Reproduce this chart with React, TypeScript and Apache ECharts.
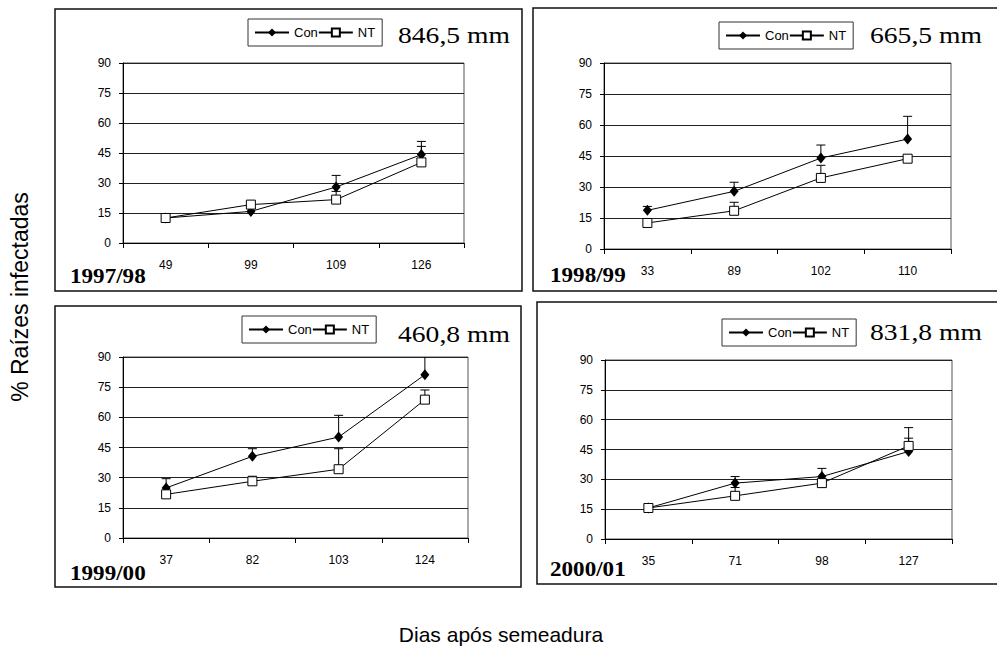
import React, { useEffect, useRef } from "react";
import * as echarts from "echarts";

// ---- data ----
const cats1 = ["49", "99", "109", "126"];
const con1 = [12.5, 15.8, 28, 44.2];
const conErr1 = [0, 0, 5.8, 6.6];
const nt1 = [12.5, 19.2, 21.7, 40.3];
const ntErr1 = [0, 0, 4.1, 8.0];

const cats2 = ["33", "89", "102", "110"];
const con2 = [18.7, 27.9, 44, 53.2];
const conErr2 = [1.9, 4.4, 6.3, 11];
const nt2 = [12.6, 18.5, 34.4, 43.7];
const ntErr2 = [2.1, 4.1, 6.1, 0];

const cats3 = ["37", "82", "103", "124"];
const con3 = [24.9, 40.6, 50.2, 81.2];
const conErr3 = [4.6, 3.8, 10.8, 12];
const nt3 = [21.7, 28.2, 34.2, 68.8];
const ntErr3 = [0, 2.5, 10.2, 4.8];

const cats4 = ["35", "71", "98", "127"];
const con4 = [15.6, 28.1, 31.4, 44];
const conErr4 = [1.6, 3.3, 4.1, 6.7];
const nt4 = [15.6, 21.7, 28.1, 46.8];
const ntErr4 = [0, 4.2, 0, 9.2];

const rainLabels = ["846,5 mm", "665,5 mm", "460,8 mm", "831,8 mm"];
const yearLabels = ["1997/98", "1998/99", "1999/00", "2000/01"];
const yTicks = { min: 0, max: 90, interval: 15 };
const yTitle = "% Raízes infectadas";
const xTitle = "Dias após semeadura";

const panels = [
  { cats: cats1, con: con1, conErr: conErr1, nt: nt1, ntErr: ntErr1 },
  { cats: cats2, con: con2, conErr: conErr2, nt: nt2, ntErr: ntErr2 },
  { cats: cats3, con: con3, conErr: conErr3, nt: nt3, ntErr: ntErr3 },
  { cats: cats4, con: con4, conErr: conErr4, nt: nt4, ntErr: ntErr4 },
];

// ---- layout ----
const grids = [
  { left: 123, top: 63, width: 341, height: 180 },
  { left: 604, top: 63, width: 347, height: 186 },
  { left: 123, top: 357, width: 345, height: 181 },
  { left: 605, top: 360, width: 347, height: 179 },
];
const boxes = [
  { x: 55, y: 9, w: 467, h: 282 },
  { x: 533, y: 8, w: 470, h: 283 },
  { x: 55, y: 306, w: 466, h: 281 },
  { x: 537, y: 302, w: 470, h: 282 },
];
const legendPos = [
  { left: 248, top: 19 },
  { left: 719, top: 22 },
  { left: 242, top: 316 },
  { left: 722, top: 319 },
];
const rainPos = [
  { x: 398, y: 35 },
  { x: 870, y: 35 },
  { x: 398, y: 334 },
  { x: 870, y: 332 },
];
const yearPos = [
  { x: 70, y: 276 },
  { x: 550, y: 275 },
  { x: 70, y: 573 },
  { x: 550, y: 569 },
];

const SANS = '"Liberation Sans", Arial, sans-serif';
const SERIF = '"Liberation Serif", "Times New Roman", serif';

function errRender(params: any, api: any) {
  const v = api.value(1);
  const t = api.value(2);
  if (!(t > v)) return null;
  const p0 = api.coord([api.value(0), v]);
  const p1 = api.coord([api.value(0), t]);
  const st = { stroke: "#000", lineWidth: 1 };
  return {
    type: "group",
    children: [
      { type: "line", shape: { x1: p0[0], y1: p0[1], x2: p0[0], y2: p1[1] }, style: st },
      { type: "line", shape: { x1: p0[0] - 4.5, y1: p1[1], x2: p0[0] + 4.5, y2: p1[1] }, style: st },
    ],
  };
}

export default function App() {
  const ref = useRef<HTMLDivElement>(null);
  useEffect(() => {
    if (!ref.current) return;
    const chart = echarts.init(ref.current, null, { renderer: "svg" });
    const series: any[] = [];
    panels.forEach((p, i) => {
      series.push({
        name: "errCon" + i,
        type: "custom",
        xAxisIndex: i,
        yAxisIndex: i,
        clip: true,
        z: 2,
        renderItem: errRender,
        encode: { x: 0, y: 1 },
        data: p.con.map((v, j) => [j, v, v + p.conErr[j]]),
      });
      series.push({
        name: "errNT" + i,
        type: "custom",
        xAxisIndex: i,
        yAxisIndex: i,
        clip: true,
        z: 2,
        renderItem: errRender,
        encode: { x: 0, y: 1 },
        data: p.nt.map((v, j) => [j, v, v + p.ntErr[j]]),
      });
      series.push({
        name: "Con",
        type: "line",
        xAxisIndex: i,
        yAxisIndex: i,
        data: p.con,
        symbol: "diamond",
        symbolSize: [9, 11],
        lineStyle: { color: "#000", width: 1 },
        itemStyle: { color: "#000" },
        z: 3,
      });
      series.push({
        name: "NT",
        type: "line",
        xAxisIndex: i,
        yAxisIndex: i,
        data: p.nt,
        symbol: "rect",
        symbolSize: 9,
        lineStyle: { color: "#000", width: 1 },
        itemStyle: { color: "#fff", borderColor: "#000", borderWidth: 1 },
        z: 4,
      });
    });

    const graphic: any[] = [];
    boxes.forEach((b) => {
      graphic.push({
        type: "rect",
        shape: { x: b.x, y: b.y, width: b.w, height: b.h },
        style: { fill: "none", stroke: "#111", lineWidth: 1.5 },
        z: 0,
      });
    });
    rainLabels.forEach((t, i) => {
      graphic.push({
        type: "text",
        x: rainPos[i].x,
        y: rainPos[i].y,
        scaleX: 1.15,
        style: { text: t, fontSize: 24, fontFamily: SERIF, fill: "#000", align: "left", verticalAlign: "middle" },
      });
    });
    yearLabels.forEach((t, i) => {
      graphic.push({
        type: "text",
        x: yearPos[i].x,
        y: yearPos[i].y,
        scaleX: 1.1,
        style: { text: t, fontSize: 21, fontWeight: "bold", fontFamily: SERIF, fill: "#000", align: "left", verticalAlign: "middle" },
      });
    });
    graphic.push({
      type: "text",
      x: 20,
      y: 297,
      rotation: Math.PI / 2,
      style: { text: yTitle, fontSize: 23, fontFamily: SANS, fill: "#000", align: "center", verticalAlign: "middle" },
    });
    graphic.push({
      type: "text",
      x: 501,
      y: 634,
      style: { text: xTitle, fontSize: 21, fontFamily: SANS, fill: "#000", align: "center", verticalAlign: "middle" },
    });

    chart.setOption({
      animation: false,
      backgroundColor: "#fff",
      grid: grids.map((g) => ({ ...g, show: true, borderColor: "#555", borderWidth: 1, backgroundColor: "transparent", containLabel: false })),
      xAxis: panels.map((p, i) => ({
        type: "category",
        gridIndex: i,
        data: p.cats,
        boundaryGap: true,
        axisLine: { show: true, lineStyle: { color: "#000", width: 1 } },
        axisTick: { show: true, length: 5, lineStyle: { color: "#000" } },
        axisLabel: { margin: 16, fontSize: 12, fontFamily: SANS, color: "#000" },
        splitLine: { show: false },
      })),
      yAxis: panels.map((p, i) => ({
        type: "value",
        gridIndex: i,
        min: yTicks.min,
        max: yTicks.max,
        interval: yTicks.interval,
        axisLine: { show: true, lineStyle: { color: "#000", width: 1 } },
        axisTick: { show: true, length: 4, lineStyle: { color: "#000" } },
        axisLabel: { margin: 12, fontSize: 12, fontFamily: SANS, color: "#000" },
        splitLine: { show: true, lineStyle: { color: "#222", width: 1 } },
      })),
      legend: legendPos.map((l) => ({
        left: l.left,
        top: l.top,
        data: ["Con", "NT"],
        orient: "horizontal",
        itemWidth: 34,
        itemHeight: 10,
        itemGap: 0,
        padding: [7, 7, 7, 6],
        borderColor: "#333",
        borderWidth: 1,
        selectedMode: false,
        textStyle: { fontSize: 13, fontFamily: SANS, color: "#000" },
      })),
      series,
      graphic,
    });
    return () => chart.dispose();
  }, []);
  return (
    <div
      ref={ref}
      style={{ position: "fixed", left: 0, top: 0, width: 997, height: 650, background: "#fff" }}
    />
  );
}
